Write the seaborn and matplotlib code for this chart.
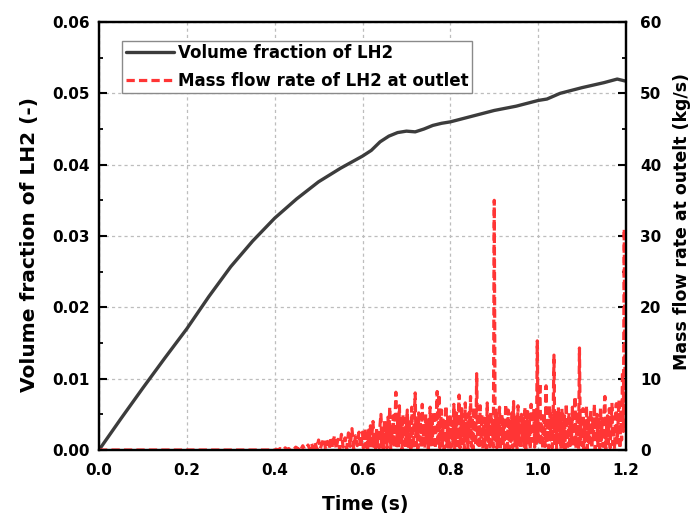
import numpy as np
import pandas as pd
import matplotlib
matplotlib.use("Agg")
import matplotlib.pyplot as plt
import seaborn as sns
from matplotlib.ticker import MultipleLocator, FormatStrFormatter

# ---------------- data ----------------
# Volume fraction of LH2 (black line, left axis)
vf_time = [0.0, 0.05, 0.1, 0.15, 0.2, 0.25, 0.3, 0.35, 0.4, 0.45, 0.5, 0.55, 0.6,
           0.62, 0.64, 0.66, 0.68, 0.7, 0.72, 0.74, 0.76, 0.78, 0.8, 0.85, 0.9,
           0.95, 1.0, 1.02, 1.05, 1.1, 1.15, 1.18, 1.2]
vf_value = [0.0, 0.0044, 0.0087, 0.0129, 0.0170, 0.0215, 0.0257, 0.0293, 0.0325,
            0.0352, 0.0376, 0.0395, 0.0412, 0.0420, 0.0432, 0.0440, 0.0445, 0.0447,
            0.0446, 0.0450, 0.0455, 0.0458, 0.0460, 0.0468, 0.0476, 0.0482, 0.0490,
            0.0492, 0.0500, 0.0508, 0.0515, 0.0520, 0.0517]

# Mass flow rate of LH2 at outlet (red dashed, right axis)
mf_zero_time = [0.0, 0.1, 0.2, 0.3]
mf_zero_value = [0.0, 0.0, 0.0, 0.0]
# 0.400 .. 0.596 s, every 0.004 s
mf_early = [
    0, 0.1, 0, 0.2, 0.1, 0, 0.3, 0.1, 0.2, 0,
    0.3, 0.1, 0.4, 0.1, 0.5, 0.1, 0.6, 0.1, 0.2, 0.7,
    0.1, 0.9, 0.2, 1.1, 0.1, 1.4, 0.2, 1.0, 1.6, 0.1,
    1.2, 0.2, 1.8, 0.3, 2.0, 0.2, 1.5, 0.1, 2.2, 0.4,
    1.7, 0.2, 2.4, 0.5, 3.0, 0.2, 2.0, 0.6, 2.5, 0.3,
]
# 0.600 .. 1.200 s, every 0.002 s
mf_late = [
    2.5, 0.3, 1.9, 3.0, 0.4, 2.2, 0.1, 2.8, 0.6, 3.4,
    0.2, 2.6, 4.0, 0.5, 2.0, 0.1, 3.2, 0.8, 2.4, 0.3,
    3.6, 5.0, 0.4, 2.8, 0.1, 4.2, 0.9, 3.0, 0.3, 4.6,
    1.2, 6.0, 0.2, 3.4, 1.0, 4.8, 0.4, 3.8, 8.1, 0.6,
    4.0, 0.3, 6.2, 1.4, 3.6, 0.1, 5.0, 0.8, 4.4, 0.4,
    3.0, 5.6, 0.5, 4.2, 1.2, 0.1, 6.0, 2.0, 0.3, 4.8,
    8.0, 0.6, 3.8, 0.2, 5.2, 1.4, 4.0, 0.3, 6.4, 1.0,
    3.6, 0.2, 5.0, 1.2, 4.4, 0.1, 3.2, 6.0, 0.5, 4.6,
    0.8, 5.4, 2.0, 0.2, 4.8, 8.2, 0.6, 7.8, 0.3, 3.8,
    5.6, 0.7, 4.2, 0.1, 3.4, 6.2, 0.5, 4.6, 0.2, 3.0,
    5.0, 0.4, 4.0, 1.2, 6.4, 0.1, 3.6, 5.2, 0.6, 4.4,
    7.7, 0.3, 3.2, 5.8, 0.9, 4.0, 0.1, 6.6, 1.4, 3.8,
    0.2, 5.2, 2.0, 7.5, 0.5, 4.6, 0.1, 6.0, 1.8, 0.6,
    10.7, 0.8, 4.4, 0.2, 6.2, 1.5, 5.0, 0.1, 3.6, 0.7,
    4.8, 0.2, 6.6, 1.2, 3.8, 0.1, 5.4, 0.9, 4.2, 0.4,
    35.0, 1.4, 5.8, 0.3, 4.4, 0.8, 6.0, 0.1, 3.6, 5.0,
    0.9, 4.2, 0.2, 6.4, 1.6, 0.4, 5.6, 0.1, 4.0, 1.2,
    5.2, 0.3, 6.8, 1.8, 0.6, 4.8, 0.1, 6.2, 1.0, 3.8,
    0.2, 5.0, 1.4, 4.4, 0.5, 6.0, 0.2, 3.6, 5.4, 0.8,
    4.0, 0.1, 6.4, 1.2, 3.4, 5.8, 0.4, 4.6, 0.7, 15.3,
    1.2, 6.0, 9.4, 0.6, 4.8, 0.2, 3.8, 5.2, 0.5, 9.0,
    1.0, 4.4, 0.2, 6.2, 1.4, 5.0, 0.3, 4.0, 13.3, 0.6,
    5.4, 0.2, 3.6, 6.0, 0.8, 4.6, 0.1, 5.8, 1.6, 0.4,
    4.8, 0.2, 6.5, 1.4, 0.5, 5.2, 0.2, 4.2, 1.2, 6.0,
    0.4, 4.6, 7.5, 0.3, 3.6, 5.4, 0.1, 14.3, 1.4, 4.4,
    0.6, 5.8, 0.2, 4.0, 1.6, 6.2, 0.1, 4.8, 1.0, 3.6,
    5.6, 0.3, 4.2, 1.2, 6.4, 0.1, 3.8, 5.0, 0.6, 4.6,
    0.2, 6.0, 1.4, 4.4, 0.5, 5.2, 7.5, 0.2, 3.6, 4.8,
    0.9, 5.8, 0.3, 4.0, 6.6, 0.8, 3.4, 0.1, 5.0, 6.5,
    1.0, 4.2, 7.0, 0.2, 5.6, 1.4, 11.0, 2.6, 31.0, 6.0,
    5.0,
]
mf_time = (mf_zero_time
           + [round(0.4 + 0.004 * i, 4) for i in range(len(mf_early))]
           + [round(0.6 + 0.002 * i, 4) for i in range(len(mf_late))])
mf_value = mf_zero_value + mf_early + mf_late

x_ticks = [0.0, 0.2, 0.4, 0.6, 0.8, 1.0, 1.2]

df_vf = pd.DataFrame({"t": vf_time, "v": vf_value})
df_mf = pd.DataFrame({"t": mf_time, "m": mf_value})

# ---------------- style ----------------
sns.set_style("white")
plt.rcParams["font.family"] = ["DejaVu Sans"]
plt.rcParams["font.weight"] = "bold"
for k in ("text.color", "axes.labelcolor", "xtick.color", "ytick.color"):
    plt.rcParams[k] = "black"

fig = plt.figure(figsize=(6.94, 5.18), dpi=100)
ax = fig.add_axes([99 / 694, (518 - 450) / 518, (626 - 99) / 694, (450 - 22) / 518])
ax2 = ax.twinx()

sns.lineplot(data=df_vf, x="t", y="v", ax=ax, color="#3c3c3c", linewidth=2.4,
             label="Volume fraction of LH2", legend=False, estimator=None)
sns.lineplot(data=df_mf, x="t", y="m", ax=ax2, color="#ff3535", linewidth=2.3,
             label="Mass flow rate of LH2 at outlet", legend=False, estimator=None)
ax2.lines[0].set_dashes([2.6, 1.3])

ax.set_xlim(0, 1.2)
ax.set_ylim(0, 0.06)
ax2.set_ylim(0, 60)
ax.set_xticks(x_ticks)
ax.xaxis.set_minor_locator(MultipleLocator(0.1))
ax.yaxis.set_major_locator(MultipleLocator(0.01))
ax.yaxis.set_minor_locator(MultipleLocator(0.005))
ax2.yaxis.set_major_locator(MultipleLocator(10))
ax2.yaxis.set_minor_locator(MultipleLocator(5))
ax.xaxis.set_major_formatter(FormatStrFormatter("%.1f"))
ax.yaxis.set_major_formatter(FormatStrFormatter("%.2f"))

ax.grid(True, which="major", color="#bdbdbd", linestyle=(0, (2.5, 2.5)), linewidth=0.9)
ax.set_axisbelow(True)

for a in (ax, ax2):
    for s in a.spines.values():
        s.set_linewidth(1.6)
        s.set_color("black")
ax.tick_params(axis="x", which="major", direction="in", length=6, width=1.5,
               labelsize=11, pad=9.5, colors="black")
ax.tick_params(axis="y", which="major", direction="in", length=6, width=1.5,
               labelsize=11, pad=6.5, colors="black")
ax.tick_params(axis="both", which="minor", direction="in", length=3.2, width=1.3,
               colors="black")
ax2.tick_params(axis="y", which="major", direction="in", length=6, width=1.5,
                labelsize=11, pad=10, colors="black")
ax2.tick_params(axis="y", which="minor", direction="in", length=3.2, width=1.3,
                colors="black")
for lab in ax.get_xticklabels() + ax.get_yticklabels() + ax2.get_yticklabels():
    lab.set_fontweight("bold")

ax.set_xlabel("Time (s)", fontsize=13.5, fontweight="bold", color="black")
ax.set_ylabel("Volume fraction of LH2 (-)", fontsize=14.5, fontweight="bold", color="black")
ax2.set_ylabel("Mass flow rate at outelt (kg/s)", fontsize=12.5, fontweight="bold",
               color="black")
ax.xaxis.set_label_coords(0.505, -0.105)
ax.yaxis.set_label_coords(-0.113, 0.48)
ax2.yaxis.set_label_coords(1.089, 0.533)

h1, l1 = ax.get_legend_handles_labels()
h2, l2 = ax2.get_legend_handles_labels()
leg = ax2.legend(h1 + h2, l1 + l2, loc="upper left", bbox_to_anchor=(0.044, 0.956),
                 borderaxespad=0, frameon=True, fancybox=False, edgecolor="#8a8a8a",
                 framealpha=1, prop={"weight": "bold", "size": 12},
                 handlelength=2.9, borderpad=0.2, labelspacing=0.6, handletextpad=0.25)
leg.get_frame().set_linewidth(1.0)
for t in leg.get_texts():
    t.set_color("black")

fig.savefig("out.png", dpi=100)
